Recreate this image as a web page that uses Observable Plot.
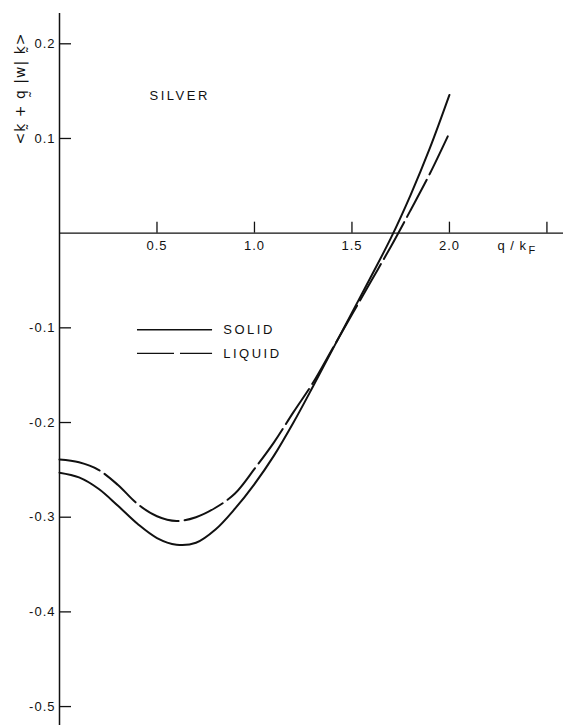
<!DOCTYPE html>
<html><head><meta charset="utf-8">
<script src="https://cdn.jsdelivr.net/npm/d3@7"></script>
<script src="https://cdn.jsdelivr.net/npm/@observablehq/plot@0.6"></script>
<style>body{margin:0;background:#fff}</style>
</head><body><div id="chart"></div>
<script>
const q      = [0, 0.1, 0.2, 0.3, 0.4, 0.5, 0.6, 0.7, 0.8, 0.9, 1.0, 1.1, 1.2, 1.3, 1.4, 1.5, 1.6, 1.7, 1.8, 1.9, 2.0];
const solid  = [-0.253, -0.258, -0.270, -0.288, -0.307, -0.322, -0.329, -0.327, -0.313, -0.291, -0.265, -0.235, -0.200, -0.162, -0.123, -0.084, -0.045, -0.005, 0.040, 0.090, 0.146];
const liquid = [-0.239, -0.242, -0.250, -0.266, -0.286, -0.299, -0.304, -0.300, -0.290, -0.275, -0.249, -0.221, -0.189, -0.158, -0.122, -0.086, -0.050, -0.014, 0.024, 0.063, 0.106];
const xTicks = [0.5, 1.0, 1.5, 2.0, 2.5];
const xTickLabels = ["0.5", "1.0", "1.5", "2.0", ""];
const yTicks = [0.2, 0.1, -0.1, -0.2, -0.3, -0.4, -0.5];
const yTickLabels = ["0.2", "0.1", "-0.1", "-0.2", "-0.3", "-0.4", "-0.5"];
const legendNames = ["SOLID", "LIQUID"];
const legendY = [-0.102, -0.127];
const legendX = [0.40, 0.785, 0.84];
const title = "SILVER";
const xLabelMain = "q / k";
const xLabelSub = "F";
const xLabelPos = [2.246, 2.405];
const yLabel = "<k\u0330 + q\u0330 |w| k\u0330>";

const W = 566, H = 725, mL = 59, mR = 3, mT = 13, mB = 0;
const xDom = [0, 2.585], yDom = [-0.52, 0.232];
const pxX = (W - mL - mR) / (xDom[1] - xDom[0]);
const pxY = (H - mT - mB) / (yDom[1] - yDom[0]);
const ink = "#111";
const font = "Liberation Sans, Arial, sans-serif";

const solidData = q.map((v, i) => ({q: v, w: solid[i]}));
const liquidData = q.map((v, i) => ({q: v, w: liquid[i]}));

const chart = Plot.plot({
  width: W, height: H,
  marginLeft: mL, marginRight: mR, marginTop: mT, marginBottom: mB,
  x: {domain: xDom, axis: null},
  y: {domain: yDom, axis: null},
  style: {fontFamily: font, fontSize: "13px", color: ink, background: "#fff", letterSpacing: "1px"},
  marks: [
    // axes
    Plot.ruleX([0], {y1: yDom[0], y2: yDom[1], stroke: ink, strokeWidth: 1.5}),
    Plot.ruleY([0], {x1: xDom[0], x2: xDom[1], stroke: ink, strokeWidth: 1.3}),
    Plot.ruleX(xTicks, {x: d => d, y1: 0, y2: 11 / pxY, stroke: ink, strokeWidth: 1.3}),
    Plot.ruleY(yTicks, {y: d => d, x1: 0, x2: 12 / pxX, stroke: ink, strokeWidth: 1.3}),
    Plot.text(xTicks, {x: d => d, y: 0, text: (d, i) => xTickLabels[i], dy: 13, fill: ink, fontSize: 13}),
    Plot.text(yTicks, {x: 0, y: d => d, text: (d, i) => yTickLabels[i], textAnchor: "end", dx: -4, fill: ink, fontSize: 13}),
    Plot.text([xLabelMain], {x: xLabelPos[0], y: 0, dy: 13, textAnchor: "start", text: d => d, fill: ink, fontSize: 13}),
    Plot.text([xLabelSub], {x: xLabelPos[1], y: 0, dy: 17, textAnchor: "start", text: d => d, fill: ink, fontSize: 11}),
    Plot.text([yLabel], {frameAnchor: "top-left", dx: -44, dy: 75, rotate: -90, textAnchor: "middle", text: d => d, fill: ink, fontSize: 14, fontFamily: "DejaVu Sans, sans-serif"}),
    Plot.text([title], {frameAnchor: "top-left", dx: 90, dy: 77, textAnchor: "start", text: d => d, fill: ink, fontSize: 13}),
    // legend
    Plot.ruleY([legendY[0]], {x1: legendX[0], x2: legendX[1], stroke: ink, strokeWidth: 1.3}),
    Plot.ruleY([legendY[1]], {x1: legendX[0], x2: legendX[1], stroke: ink, strokeWidth: 1.3, strokeDasharray: "37,6"}),
    Plot.text(legendNames, {x: legendX[2], y: (d, i) => legendY[i], text: d => d, textAnchor: "start", fill: ink, fontSize: 13}),
    // curves
    Plot.line(solidData, {x: "q", y: "w", curve: "catmull-rom", stroke: ink, strokeWidth: 2}),
    Plot.line(liquidData, {x: "q", y: "w", curve: "catmull-rom", stroke: ink, strokeWidth: 2, strokeDasharray: "42,6"})
  ]
});
// wider lettering for the capitalised labels
const wide = new Set([title, ...legendNames]);
d3.select(chart).selectAll("text").filter(function() { return wide.has(this.textContent); })
  .style("letter-spacing", "2.5px");
document.getElementById("chart").appendChild(chart);
</script>
</body></html>
